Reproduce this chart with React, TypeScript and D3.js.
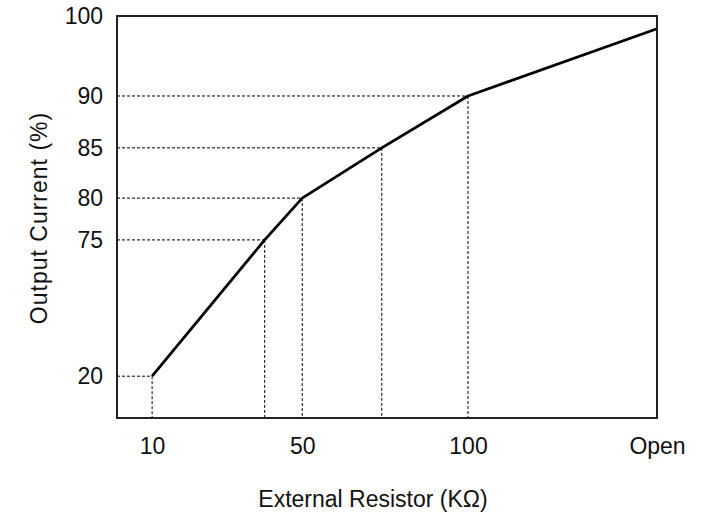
import React, { useEffect, useRef } from 'react';
import * as d3 from 'd3';

// "Open" (no resistor) gets a stand-in position past 100K on the x scale
const OPEN = 150;

const resistorK = [10, 40, 50, 74, 100, OPEN];
const outputPct = [20, 75, 80, 85, 90, 98.4];

const xTickValues = [10, 50, 100, OPEN];
const xTickLabels = ['10', '50', '100', 'Open'];
const yTickValues = [20, 75, 80, 85, 90, 100];

// the printed axes are not uniform, so both scales are piecewise linear
const xBreaks = [0, 10, 50, 100, OPEN];
const xBreakFrac = [0, 0.065, 0.343, 0.65, 1];
const yBreaks = [20, 75, 80, 85, 90, 100];
const yBreakFrac = [0.896, 0.557, 0.453, 0.328, 0.199, 0];

const W = 706;
const H = 516;
const margin = { top: 16, right: 49, bottom: 98, left: 117 };
const FONT = '"Liberation Sans", Arial, sans-serif';
const FONT_SIZE = 23;

const App: React.FC = () => {
  const svgRef = useRef<SVGSVGElement>(null);

  useEffect(() => {
    if (!svgRef.current) return;
    const svg = d3.select(svgRef.current);
    svg.selectAll('*').remove();

    const width = W - margin.left - margin.right;
    const height = H - margin.top - margin.bottom;

    const x = d3.scaleLinear()
      .domain(xBreaks)
      .range(xBreakFrac.map(f => f * width));
    const y = d3.scaleLinear()
      .domain(yBreaks)
      .range(yBreakFrac.map(f => f * height));

    const g = svg.append('g').attr('transform', `translate(${margin.left},${margin.top})`);

    const points = resistorK.map((r, i) => ({ r, v: outputPct[i] }));

    // guide lines: across from the y axis, down to the x axis
    const guides = points.filter(p => p.r !== OPEN);
    g.selectAll('line.h-guide')
      .data(guides)
      .enter().append('line')
      .classed('h-guide', true)
      .attr('x1', 0)
      .attr('x2', d => x(d.r))
      .attr('y1', d => y(d.v))
      .attr('y2', d => y(d.v))
      .attr('stroke', '#000')
      .attr('stroke-width', 1)
      .attr('stroke-dasharray', '3,2');
    g.selectAll('line.v-guide')
      .data(guides)
      .enter().append('line')
      .classed('v-guide', true)
      .attr('x1', d => x(d.r))
      .attr('x2', d => x(d.r))
      .attr('y1', d => y(d.v))
      .attr('y2', height)
      .attr('stroke', '#000')
      .attr('stroke-width', 1)
      .attr('stroke-dasharray', '3,2');

    // curve
    const line = d3.line<{ r: number; v: number }>()
      .x(d => x(d.r))
      .y(d => y(d.v));
    g.append('path')
      .datum(points)
      .attr('d', line)
      .attr('fill', 'none')
      .attr('stroke', '#000')
      .attr('stroke-width', 2.8)
      .attr('stroke-linejoin', 'round');

    // frame
    g.append('rect')
      .attr('width', width)
      .attr('height', height)
      .attr('fill', 'none')
      .attr('stroke', '#222')
      .attr('stroke-width', 2);

    // axes (labels only, the frame stands in for the domain lines)
    const yAxis = g.append('g')
      .call(d3.axisLeft(y).tickValues(yTickValues).tickSize(0).tickPadding(14));
    yAxis.select('.domain').remove();

    const xAxis = g.append('g')
      .attr('transform', `translate(0,${height})`)
      .call(d3.axisBottom(x)
        .tickValues(xTickValues)
        .tickSize(0)
        .tickPadding(20)
        .tickFormat((_, i) => xTickLabels[i]));
    xAxis.select('.domain').remove();

    svg.selectAll('.tick text')
      .attr('font-family', FONT)
      .attr('font-size', FONT_SIZE)
      .attr('fill', '#111');

    // titles
    svg.append('text')
      .attr('x', 373)
      .attr('y', 507)
      .attr('text-anchor', 'middle')
      .attr('font-family', FONT)
      .attr('font-size', FONT_SIZE)
      .attr('fill', '#111')
      .text('External Resistor (KΩ)');

    svg.append('text')
      .attr('transform', 'translate(47,218) rotate(-90)')
      .attr('text-anchor', 'middle')
      .attr('font-family', FONT)
      .attr('font-size', FONT_SIZE)
      .attr('letter-spacing', 1)
      .attr('fill', '#111')
      .text('Output Current (%)');
  }, []);

  return (
    <svg
      ref={svgRef}
      width={W}
      height={H}
      style={{ position: 'absolute', left: 0, top: 0, background: '#fff' }}
    />
  );
};

export default App;
